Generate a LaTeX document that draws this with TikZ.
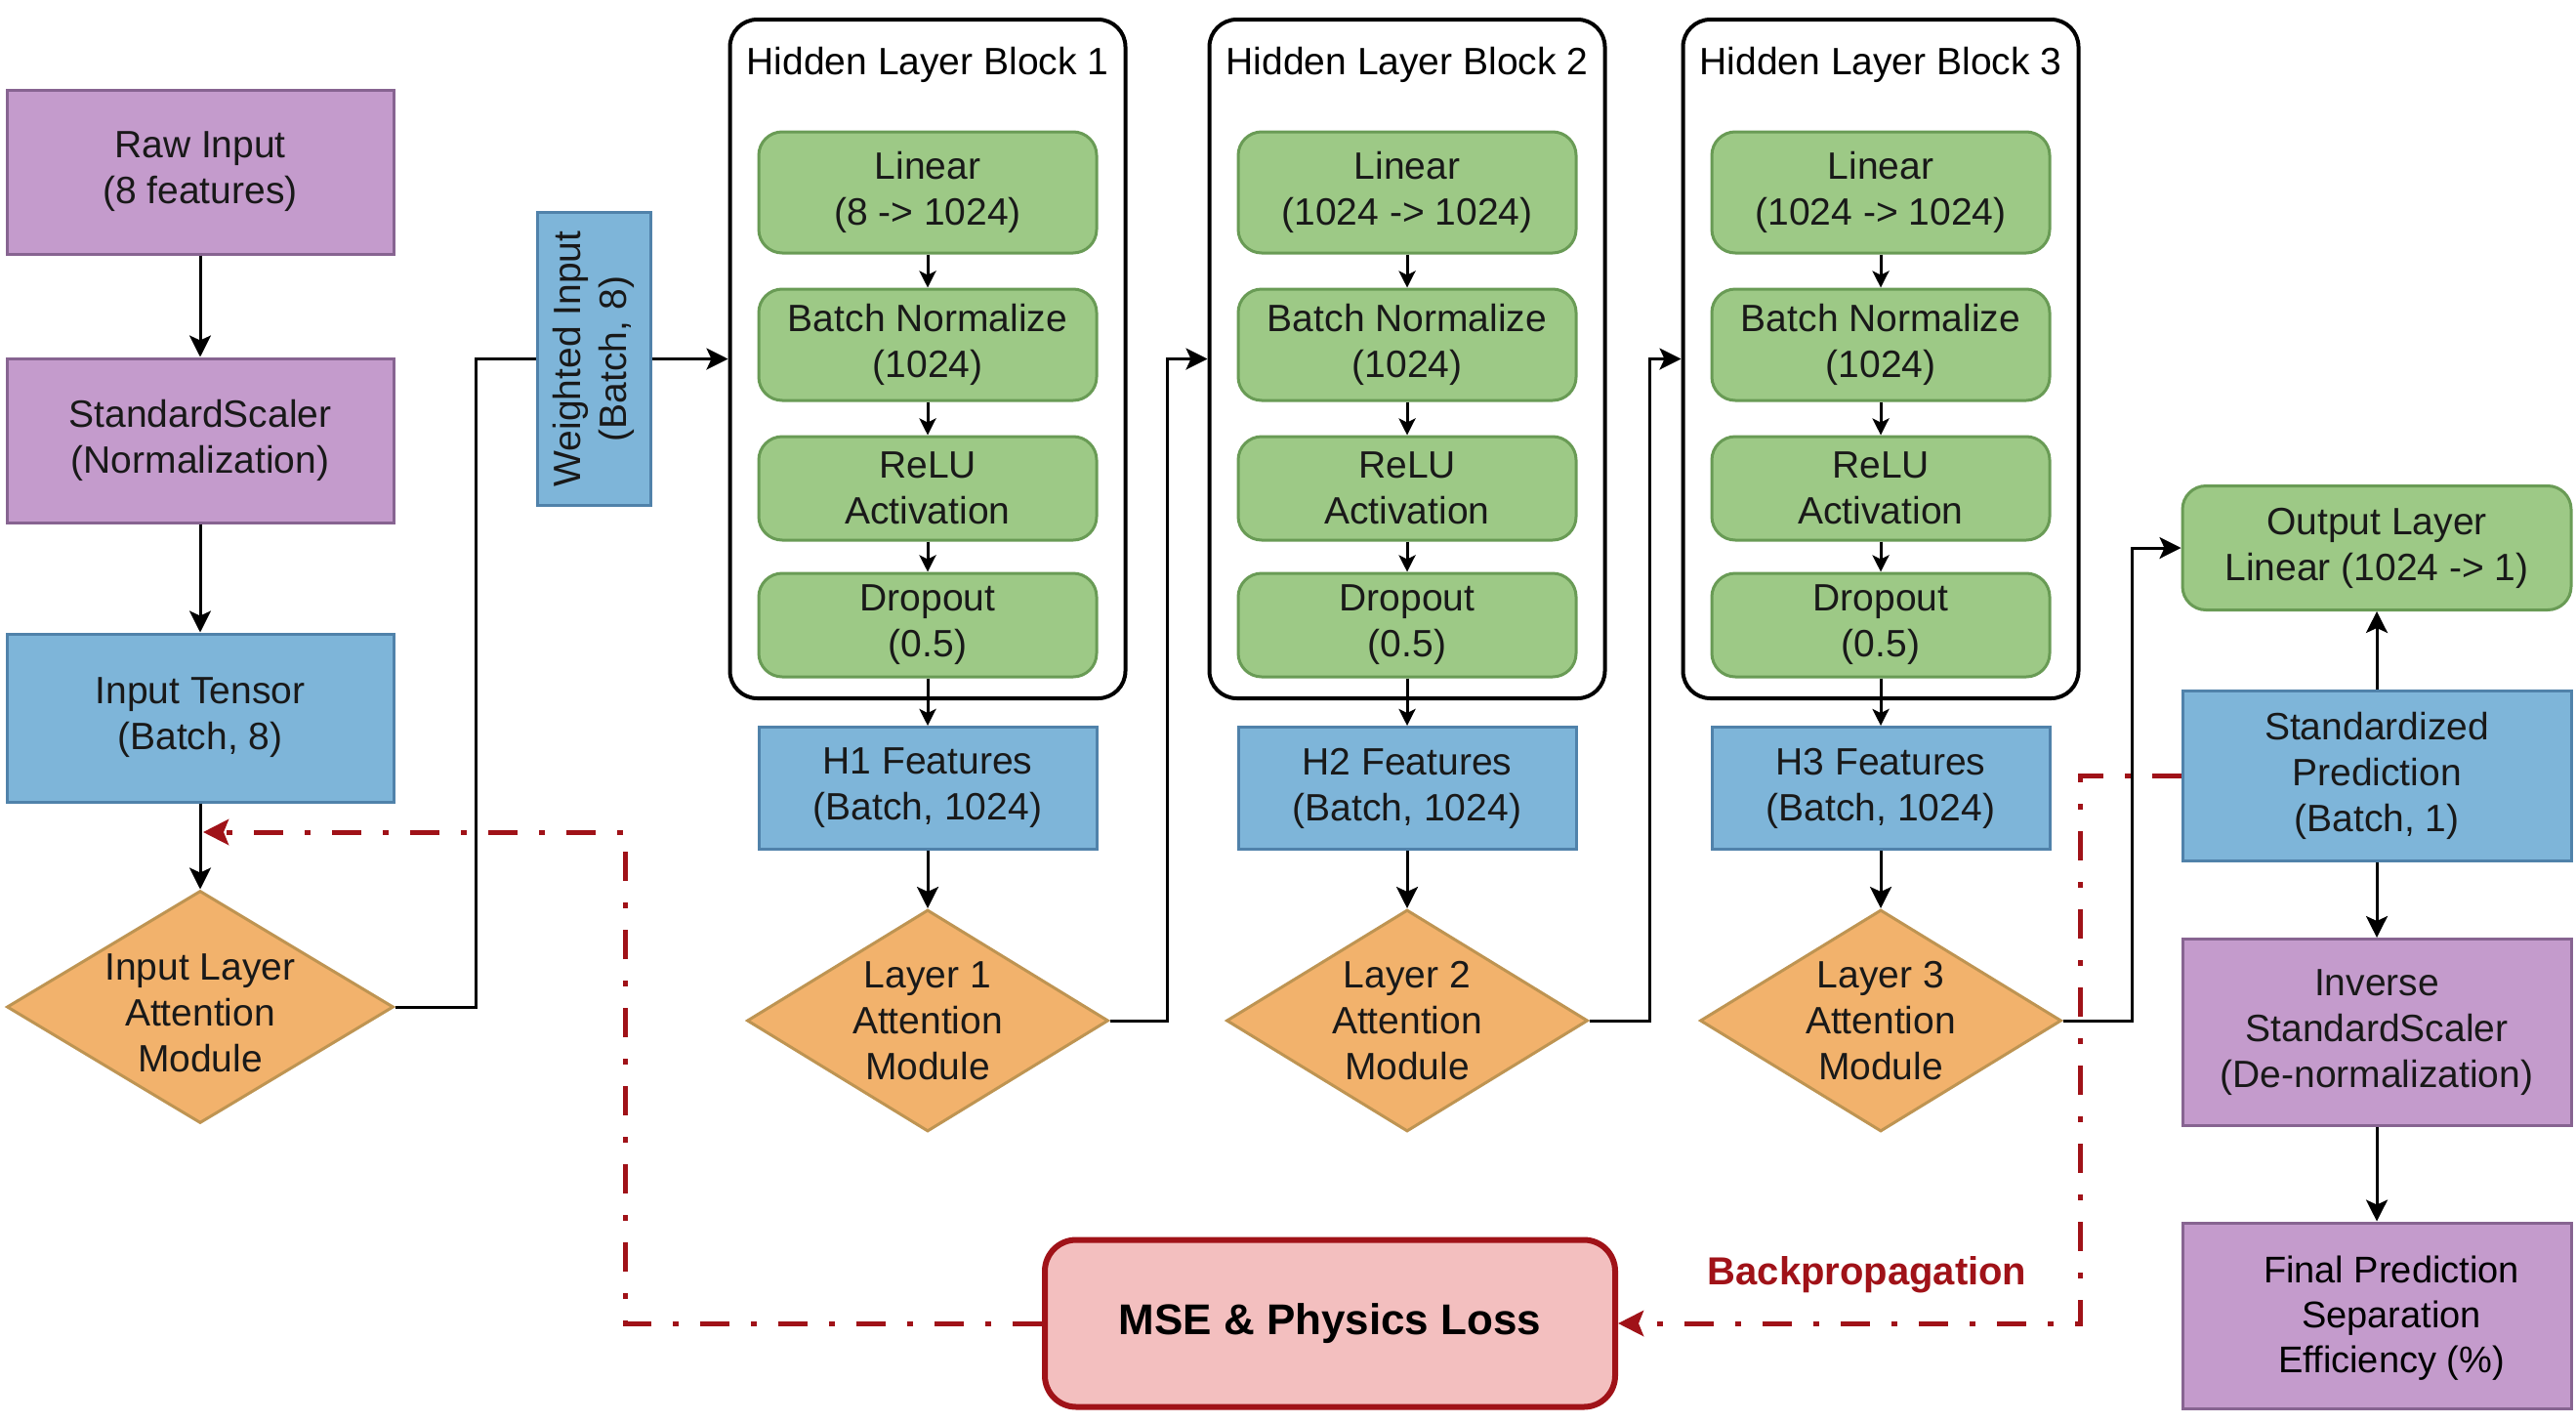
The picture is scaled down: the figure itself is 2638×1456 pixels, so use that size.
\documentclass[tikz,border=0pt]{standalone}
\usepackage{fontspec}
\setmainfont{Liberation Sans}
\usetikzlibrary{shapes.geometric,arrows.meta}
\definecolor{pfill}{RGB}{196,155,204}
\definecolor{pdraw}{RGB}{135,100,145}
\definecolor{bfill}{RGB}{126,181,217}
\definecolor{bdraw}{RGB}{80,130,170}
\definecolor{gfill}{RGB}{157,201,134}
\definecolor{gdraw}{RGB}{105,155,85}
\definecolor{ofill}{RGB}{242,178,108}
\definecolor{odraw}{RGB}{190,148,82}
\definecolor{mfill}{RGB}{243,191,191}
\definecolor{mdraw}{RGB}{160,18,24}
\definecolor{bpred}{RGB}{160,18,24}
\definecolor{txt}{RGB}{25,25,25}
\begin{document}
\begin{tikzpicture}[x=1pt,y=-1pt,
  base/.style={align=center, inner sep=0pt, text=txt, font={\fontsize{39}{47}\selectfont}, line width=3pt},
  pbox/.style={base, rectangle, draw=pdraw, fill=pfill},
  bbox/.style={base, rectangle, draw=bdraw, fill=bfill},
  gbox/.style={base, rectangle, rounded corners=24pt, draw=gdraw, fill=gfill, minimum width=346},
  attn/.style={diamond, draw=odraw, fill=ofill, line width=3pt, inner sep=0pt},
  attntext/.style={base},
  blockbox/.style={rectangle, rounded corners=28pt, draw=black, line width=4pt, minimum width=405, minimum height=695},
  blocktitle/.style={base, text=black},
  arr/.style={line width=3pt, -{Stealth[length=22pt,width=22pt,inset=5pt]}},
  sarr/.style={line width=3pt, -{Stealth[length=17pt,width=17pt,inset=4pt]}},
  line/.style={line width=3pt},
  back/.style={draw=bpred, line width=5pt, dash pattern=on 30pt off 22pt on 6pt off 22pt, -{Stealth[length=26pt,width=26pt,inset=5pt]}},
  losstext/.style={base}
]
\fill[white] (0,0) rectangle (2638,1456);
\useasboundingbox (0,0) rectangle (2638,1456);

% left column
\node[pbox, minimum width=396, minimum height=168] (raw) at (205,176) {Raw Input\\(8 features)};
\node[pbox, minimum width=396, minimum height=168] (scaler) at (205,451) {StandardScaler\\(Normalization)};
\node[bbox, minimum width=396, minimum height=172] (tensor) at (205,735) {Input Tensor\\(Batch, 8)};
\node[attn, minimum width=396, minimum height=238] (a0) at (205,1031) {};
\node[attntext] (a0t) at (205,1037) {Input Layer\\Attention\\Module};
\node[bbox, rotate=90, minimum width=300, minimum height=116] (w) at (608,367.5) {Weighted Input\\(Batch, 8)};

% hidden blocks
\foreach \i/\cx/\lin in {1/950/{(8 -> 1024)}, 2/1441/{(1024 -> 1024)}, 3/1926/{(1024 -> 1024)}}{
  \node[blockbox] (b\i) at (\cx,367.5) {};
  \node[blocktitle] (t\i) at (\cx,66) {Hidden Layer Block \i};
  \node[gbox, minimum height=124] (lin\i) at (\cx,197) {Linear\\\lin};
  \node[gbox, minimum height=114] (bn\i) at (\cx,353) {Batch Normalize\\(1024)};
  \node[gbox, minimum height=106] (relu\i) at (\cx,500) {ReLU\\Activation};
  \node[gbox, minimum height=106] (drop\i) at (\cx,640) {Dropout\\(0.5)};
  \node[bbox, minimum width=346, minimum height=125] (h\i) at (\cx,807) {H\i\ Features\\(Batch, 1024)};
  \node[attn, minimum width=370, minimum height=227] (a\i) at (\cx,1045) {};
  \node[attntext] (a\i t) at (\cx,1045) {Layer \i\\Attention\\Module};
  \draw[sarr] (lin\i.south) -- (bn\i.north);
  \draw[sarr] (bn\i.south) -- (relu\i.north);
  \draw[sarr] (relu\i.south) -- (drop\i.north);
  \draw[sarr] (drop\i.south) -- (h\i.north);
  \draw[arr] (h\i.south) -- (a\i.north);
}

% right column
\node[gbox, minimum width=398, minimum height=127] (out) at (2434,561) {Output Layer\\Linear (1024 -> 1)};
\node[bbox, minimum width=398, minimum height=174] (std) at (2434,794) {Standardized\\Prediction\\(Batch, 1)};
\node[pbox, minimum width=398, minimum height=191] (inv) at (2434,1057) {Inverse\\StandardScaler\\(De-normalization)};
\node[pbox, minimum width=398, minimum height=190] (fin) at (2434,1347) {};
\node[base, font={\fontsize{38}{46}\selectfont}, text=black] (fint) at (2449,1350) {Final Prediction\\Separation\\Efficiency (\%)};

% loss
\node[base, rectangle, rounded corners=32pt, draw=mdraw, fill=mfill, line width=6pt, minimum width=584, minimum height=171, font={\fontsize{44}{52}\selectfont\bfseries}, text=black] (mse) at (1362,1355) {MSE \& Physics Loss};
\node[base, font={\fontsize{40}{48}\selectfont\bfseries}, text=bpred] (bpl) at (1912,1305) {Backpropagation};
\coordinate (bpend) at (208,852);

% main flow
\draw[arr] (raw.south) -- (scaler.north);
\draw[arr] (scaler.south) -- (tensor.north);
\draw[arr] (tensor.south) -- (a0.north);
\draw[line] (a0.east) -- ++(83,0) |- (w.north);
\draw[arr] (w.south) -- (b1.west);
\draw[arr] (a1.east) -- ++(59,0) |- (b2.west);
\draw[arr] (a2.east) -- ++(62,0) |- (b3.west);
\draw[arr] (a3.east) -- ++(71,0) |- (out.west);
\draw[arr] (std.north) -- (out.south);
\draw[arr] (std.south) -- (inv.north);
\draw[arr] (inv.south) -- (fin.north);

% backpropagation
\draw[back] (std.west) -- ++(-103,0) |- (mse.east);
\draw[back] (mse.west) -- ++(-427,0) |- (bpend);
\end{tikzpicture}
\end{document}
